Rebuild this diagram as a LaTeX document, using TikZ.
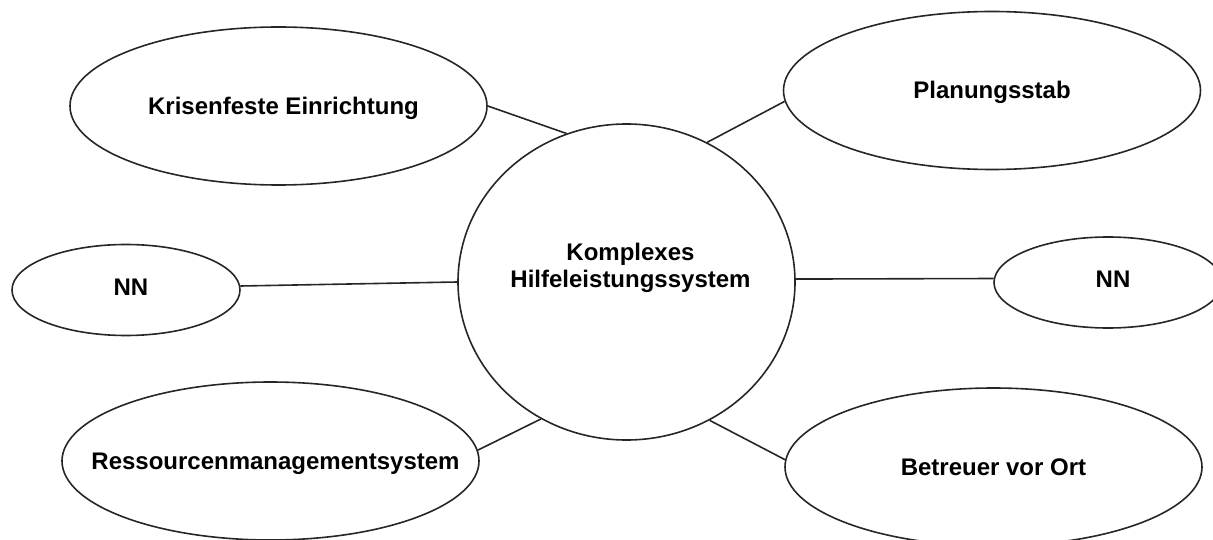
\documentclass[tikz,border=0pt]{standalone}
\usepackage{fontspec}
\setmainfont{Liberation Sans}
\usetikzlibrary{shapes.geometric}

\begin{document}
\begin{tikzpicture}[
  x=1pt, y=-1pt,
  font=\bfseries\fontsize{24}{27.5}\selectfont,
  bubble/.style={draw=black!85, line width=1.6pt, ellipse, inner sep=0pt, text height=17pt, text depth=0pt, minimum width=417pt, minimum height=158pt},
  smallbubble/.style={draw=black!85, line width=1.6pt, ellipse, inner sep=0pt, text height=17pt, text depth=7pt, minimum width=228pt, minimum height=91pt},
  hubnode/.style={draw=black!85, line width=1.6pt, ellipse, inner sep=0pt, minimum width=337pt, minimum height=316pt},
  link/.style={draw=black!85, line width=1.6pt}
]
\useasboundingbox (0,0) rectangle (1213,540);
\clip (0,0) rectangle (1213,540);

% centre
\node[hubnode, label={[align=center, yshift=14pt, xshift=4pt]center:Komplexes\\Hilfeleistungssystem}] (hub) at (626.5,282) {};

% outer bubbles
\node[bubble] (kris) at (278.5,106) {\hspace*{10pt}Krisenfeste Einrichtung};
\node[bubble] (plan) at (992,90.5) {Planungsstab};
\node[smallbubble] (nnl) at (126,290) {\hspace*{10pt}NN};
\node[smallbubble] (nnr) at (1108,282.5) {\hspace*{10pt}NN};
\node[bubble] (res) at (270.5,461) {\makebox[0pt]{\hspace*{10pt}Ressourcenmanagementsystem}};
\node[bubble] (betr) at (993.5,467) {Betreuer vor Ort};

% links
\draw[link] (kris.east) -- (hub.112);
\draw[link] (plan.183) -- (hub.60);
\draw[link] (nnl.2) -- (hub.west);
\draw[link] (nnr.178) -- (hub.1);
\draw[link] (res.3) -- (hub.238);
\draw[link] (betr.178) -- (hub.301);
\end{tikzpicture}
\end{document}
